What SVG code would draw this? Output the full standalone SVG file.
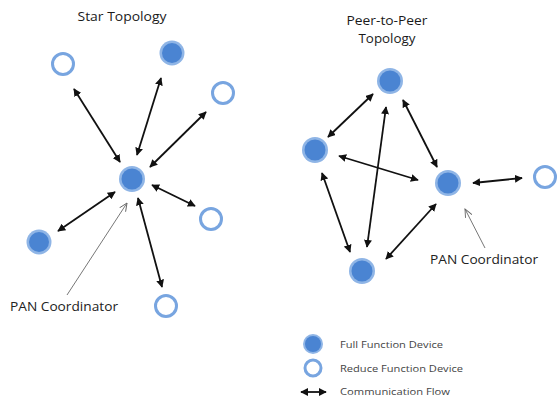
<svg xmlns="http://www.w3.org/2000/svg" width="557" height="398" viewBox="0 0 557 398">
  <defs>
    <marker id="head" viewBox="0 0 10 10" refX="9" refY="5" markerWidth="4.4" markerHeight="4.4" orient="auto-start-reverse" markerUnits="strokeWidth">
      <path d="M0,0 L10,5 L0,10 Z" fill="#111"/>
    </marker>
    <marker id="open" viewBox="0 0 10 10" refX="9" refY="5" markerWidth="9" markerHeight="9" orient="auto" markerUnits="strokeWidth">
      <path d="M0,1 L9,5 L0,9" fill="none" stroke="#666" stroke-width="1"/>
    </marker>
  </defs>
  <style>
    .ffd-halo { fill: #8fb5e6; }
    .ffd { fill: #4a84d2; }
    .rfd { fill: #ffffff; stroke: #78a5e0; stroke-width: 3; }
    .flow { stroke: #111; stroke-width: 1.8; fill: none; marker-start: url(#head); marker-end: url(#head); }
    .pointer { stroke: #777; stroke-width: 1; fill: none; marker-end: url(#open); }
    .title { font-family: "Open Sans", "Liberation Sans", sans-serif; font-size: 12px; fill: #1a1a1a; text-anchor: middle; }
    .label { font-family: "Open Sans", "Liberation Sans", sans-serif; font-size: 13px; fill: #222; }
    .legend { font-family: "Open Sans", "Liberation Sans", sans-serif; font-size: 9.8px; fill: #444; }
  </style>
  <rect width="557" height="398" fill="#ffffff"/>

  <!-- titles -->
  <text class="title" x="122" y="21" textLength="89" lengthAdjust="spacingAndGlyphs">Star Topology</text>
  <text class="title" x="387" y="24.5" textLength="81" lengthAdjust="spacingAndGlyphs">Peer-to-Peer</text>
  <text class="title" x="387" y="42.5" textLength="57" lengthAdjust="spacingAndGlyphs">Topology</text>

  <!-- connectors -->
  <g id="connectors">
    <!-- star -->
    <line class="flow" x1="74" y1="89" x2="120" y2="162"/>
    <line class="flow" x1="161" y1="78" x2="137" y2="155"/>
    <line class="flow" x1="206" y1="112" x2="150" y2="167"/>
    <line class="flow" x1="115" y1="192" x2="58" y2="231"/>
    <line class="flow" x1="152" y1="185" x2="195" y2="206"/>
    <line class="flow" x1="138" y1="198" x2="162" y2="287"/>
    <line class="pointer" x1="67" y1="295" x2="127" y2="203"/>
    <!-- peer-to-peer -->
    <line class="flow" x1="373" y1="94" x2="328" y2="137"/>
    <line class="flow" x1="403" y1="100" x2="437" y2="167"/>
    <line class="flow" x1="339" y1="156" x2="418" y2="180"/>
    <line class="flow" x1="367" y1="247" x2="386" y2="107"/>
    <line class="flow" x1="322" y1="173" x2="350" y2="252"/>
    <line class="flow" x1="386" y1="259" x2="436" y2="204"/>
    <line class="flow" x1="473" y1="183" x2="522" y2="178"/>
    <line class="pointer" x1="485" y1="248" x2="465" y2="209"/>
  </g>

  <!-- star topology nodes -->
  <g id="star-coordinator"><circle class="ffd-halo" cx="132" cy="179" r="13"/><circle class="ffd" cx="132" cy="179" r="10.5"/></g>
  <g id="star-rfd-1"><circle class="rfd" cx="63" cy="64" r="10.5"/></g>
  <g id="star-ffd-1"><circle class="ffd-halo" cx="172" cy="53" r="12.5"/><circle class="ffd" cx="172" cy="53" r="10"/></g>
  <g id="star-rfd-2"><circle class="rfd" cx="223" cy="93" r="10.5"/></g>
  <g id="star-ffd-2"><circle class="ffd-halo" cx="39" cy="242" r="12.5"/><circle class="ffd" cx="39" cy="242" r="10"/></g>
  <g id="star-rfd-3"><circle class="rfd" cx="211" cy="219" r="10.5"/></g>
  <g id="star-rfd-4"><circle class="rfd" cx="166" cy="306" r="10.5"/></g>
  <text class="label" x="10" y="311" textLength="108" lengthAdjust="spacingAndGlyphs">PAN Coordinator</text>

  <!-- peer-to-peer nodes -->
  <g id="p2p-ffd-top"><circle class="ffd-halo" cx="390" cy="81" r="13"/><circle class="ffd" cx="390" cy="81" r="10.5"/></g>
  <g id="p2p-ffd-left"><circle class="ffd-halo" cx="315" cy="150" r="13"/><circle class="ffd" cx="315" cy="150" r="10.5"/></g>
  <g id="p2p-coordinator"><circle class="ffd-halo" cx="448" cy="183" r="13"/><circle class="ffd" cx="448" cy="183" r="10.5"/></g>
  <g id="p2p-ffd-bottom"><circle class="ffd-halo" cx="362" cy="271" r="13"/><circle class="ffd" cx="362" cy="271" r="10.5"/></g>
  <g id="p2p-rfd"><circle class="rfd" cx="545" cy="177" r="10.5"/></g>
  <text class="label" x="430" y="264" textLength="108" lengthAdjust="spacingAndGlyphs">PAN Coordinator</text>

  <!-- legend -->
  <g id="legend">
    <circle class="ffd-halo" cx="313" cy="344" r="10"/><circle class="ffd" cx="313" cy="344" r="8"/>
    <circle class="rfd" cx="313" cy="368" r="8"/>
    <line class="flow" x1="301" y1="392" x2="326" y2="392"/>
    <text class="legend" x="340" y="348" textLength="103" lengthAdjust="spacingAndGlyphs">Full Function Device</text>
    <text class="legend" x="340" y="372" textLength="123" lengthAdjust="spacingAndGlyphs">Reduce Function Device</text>
    <text class="legend" x="340" y="395" textLength="110" lengthAdjust="spacingAndGlyphs">Communication Flow</text>
  </g>
</svg>
